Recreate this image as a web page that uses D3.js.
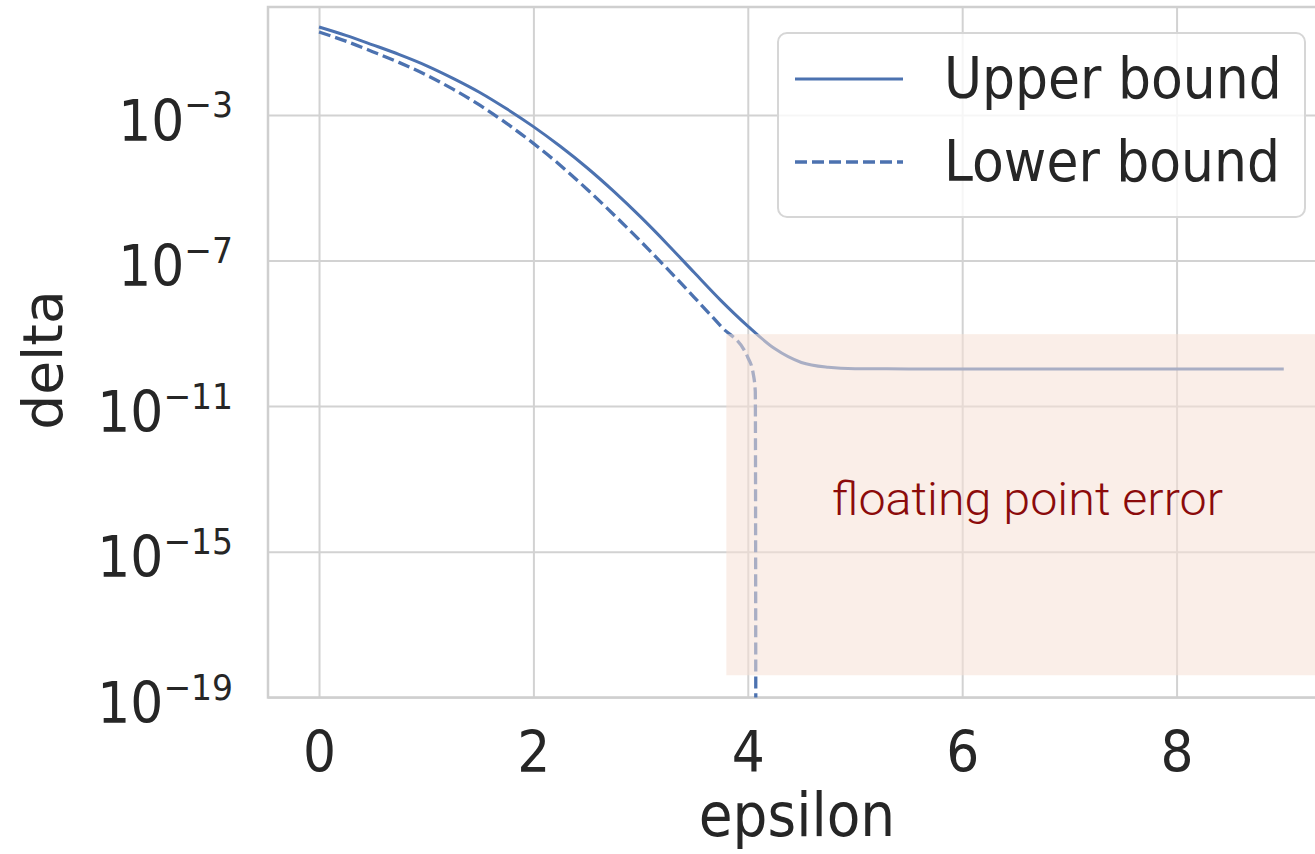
<!DOCTYPE html>
<html>
<head>
<meta charset="utf-8">
<script src="https://cdn.jsdelivr.net/npm/d3@7"></script>
<style>
body { margin: 0; background: #fff; overflow: hidden; }
svg { display: block; }
svg text { font-family: 'DejaVu Sans', 'Bitstream Vera Sans', sans-serif; }
svg text.note { font-family: Roboto, 'Open Sans', sans-serif; }
</style>
</head>
<body>
<div id="chart"></div>
<script>
// values (delta on a log scale)
var epsUpper = [0, 0.25, 0.5, 0.75, 1, 1.25, 1.5, 1.75, 2, 2.25, 2.5, 2.75, 3, 3.25, 3.5, 3.75, 4, 4.25, 4.5, 4.75, 5, 5.5, 6, 6.5, 7, 7.5, 8, 8.5, 9];
var deltaUpper = [0.263, 0.155, 8.5e-2, 4.57e-2, 2.29e-2, 1.02e-2, 4.17e-3, 1.48e-3, 4.79e-4, 1.38e-4, 3.55e-5, 7.94e-6, 1.58e-6, 2.82e-7, 4.68e-8, 7.94e-9, 1.58e-9, 3.8e-10, 1.58e-10, 1.17e-10, 1.07e-10, 1.05e-10, 1.04e-10, 1.04e-10, 1.04e-10, 1.04e-10, 1.04e-10, 1.04e-10, 1.04e-10];

var epsLower = [0, 0.25, 0.5, 0.75, 1, 1.25, 1.5, 1.75, 2, 2.25, 2.5, 2.75, 3, 3.25, 3.5, 3.75, 4, 4.05, 4.07, 4.08, 9];
var deltaLower = [0.191, 0.107, 5.5e-2, 2.75e-2, 1.26e-2, 5.13e-3, 1.86e-3, 5.89e-4, 1.66e-4, 4.17e-5, 9.12e-6, 1.82e-6, 3.39e-7, 5.89e-8, 9.77e-9, 1.55e-9, 2.19e-10, 7.94e-11, 2.51e-11, 0, 0];

var seriesNames = ['Upper bound', 'Lower bound'];
var xTicks = [0, 2, 4, 6, 8];
var yTicks = [1e-3, 1e-7, 1e-11, 1e-15, 1e-19];
var yTickExp = ['\u22123', '\u22127', '\u221211', '\u221215', '\u221219'];

// shaded annotation box (data coords)
var shadeEps = [3.8, 9.6];
var shadeDelta = [9.5e-10, 4e-19];
var shadeLabel = 'floating point error';

var W = 1315, H = 854;
var margins = {left: 268, top: 7};
var width = 1064, height = 690.5;
var blue = '#4c72b0', grid = '#d2d2d2', ink = '#262626';
var stretch = 'scale(1,1.1)';

var x = d3.scaleLinear().domain([-0.476, 9.45]).range([0, width]);
var y = d3.scaleLog().domain([9.8e-20, 0.93]).range([height, 0]);

var svg = d3.select('#chart').append('svg')
    .attr('width', W)
    .attr('height', H);

var vis = svg.append('g').attr('transform', 'translate(' + margins.left + ',' + margins.top + ')');

svg.append('clipPath').attr('id', 'plotclip')
    .append('rect').attr('x', 0).attr('y', 0).attr('width', width).attr('height', height);

// grid + tick labels via axes
var xAxis = vis.append('g')
    .attr('transform', 'translate(0,' + height + ')')
    .call(d3.axisBottom(x).tickValues(xTicks).tickSize(-height).tickFormat(''));
xAxis.select('.domain').remove();
xAxis.selectAll('.tick line').attr('stroke', grid).attr('stroke-width', 2);
xAxis.selectAll('.tick').append('text')
    .attr('transform', 'translate(0,74) ' + stretch)
    .attr('text-anchor', 'middle')
    .attr('fill', ink)
    .attr('font-size', 52)
    .text(function(d) { return d; });

var yAxis = vis.append('g')
    .call(d3.axisLeft(y).tickValues(yTicks).tickSize(-width).tickFormat(''));
yAxis.select('.domain').remove();
yAxis.selectAll('.tick line').attr('stroke', grid).attr('stroke-width', 2);
var yLab = yAxis.selectAll('.tick').append('text')
    .attr('transform', 'translate(-35,25) ' + stretch)
    .attr('text-anchor', 'end')
    .attr('fill', ink)
    .attr('font-size', 52);
yLab.append('tspan').text('10');
yLab.append('tspan')
    .attr('font-size', 33)
    .attr('dy', -21)
    .text(function(d, i) { return yTickExp[i]; });

// frame
vis.append('path')
    .attr('d', 'M' + width + ',0H0V' + height + 'H' + width)
    .attr('fill', 'none')
    .attr('stroke', '#cfcfcf')
    .attr('stroke-width', 2.5);

// lines
var line = d3.line()
    .x(function(d) { return x(d[0]); })
    .y(function(d) { return y(Math.max(d[1], 1e-30)); })
    .curve(d3.curveMonotoneX);

var plot = vis.append('g').attr('clip-path', 'url(#plotclip)');
plot.append('path')
    .datum(d3.zip(epsUpper, deltaUpper))
    .attr('d', line)
    .attr('fill', 'none')
    .attr('stroke', blue)
    .attr('stroke-width', 3);
plot.append('path')
    .datum(d3.zip(epsLower, deltaLower))
    .attr('d', line)
    .attr('fill', 'none')
    .attr('stroke', blue)
    .attr('stroke-width', 3.3)
    .attr('stroke-dasharray', '12,5');

// legend
var leg = svg.append('g').attr('transform', 'translate(778,33)');
leg.append('rect')
    .attr('width', 527).attr('height', 184).attr('rx', 9)
    .attr('fill', '#fff').attr('fill-opacity', 0.8)
    .attr('stroke', '#d6d6d6').attr('stroke-width', 2);
seriesNames.forEach(function(name, i) {
    var yy = 46 + i * 83;
    leg.append('line')
        .attr('x1', 17).attr('x2', 125).attr('y1', yy).attr('y2', yy)
        .attr('stroke', blue).attr('stroke-width', i ? 3.3 : 3)
        .attr('stroke-dasharray', i ? '12,5' : null);
    leg.append('text')
        .attr('transform', 'translate(166,' + (yy + 19) + ') ' + stretch)
        .attr('fill', ink)
        .attr('font-size', 52)
        .text(name);
});

// axis labels
svg.append('text')
    .attr('transform', 'translate(797,836) ' + stretch)
    .attr('text-anchor', 'middle')
    .attr('fill', ink)
    .attr('font-size', 55)
    .text('epsilon');
svg.append('text')
    .attr('transform', 'translate(62,360) rotate(-90)')
    .attr('text-anchor', 'middle')
    .attr('fill', ink)
    .attr('font-size', 55)
    .text('delta');

// shaded overlay on top of everything
var sx0 = margins.left + x(shadeEps[0]), sx1 = margins.left + x(shadeEps[1]);
var sy0 = margins.top + y(shadeDelta[0]), sy1 = margins.top + y(shadeDelta[1]);
svg.append('rect')
    .attr('x', sx0).attr('y', sy0)
    .attr('width', sx1 - sx0).attr('height', sy1 - sy0)
    .attr('fill', 'rgb(246,224,213)')
    .attr('fill-opacity', 0.55);
svg.append('text')
    .attr('class', 'note')
    .attr('x', 832).attr('y', 515)
    .attr('fill', '#8b0b0b')
    .attr('font-weight', 300)
    .attr('font-size', 47)
    .attr('textLength', 391)
    .attr('lengthAdjust', 'spacingAndGlyphs')
    .text(shadeLabel);
</script>
</body>
</html>
